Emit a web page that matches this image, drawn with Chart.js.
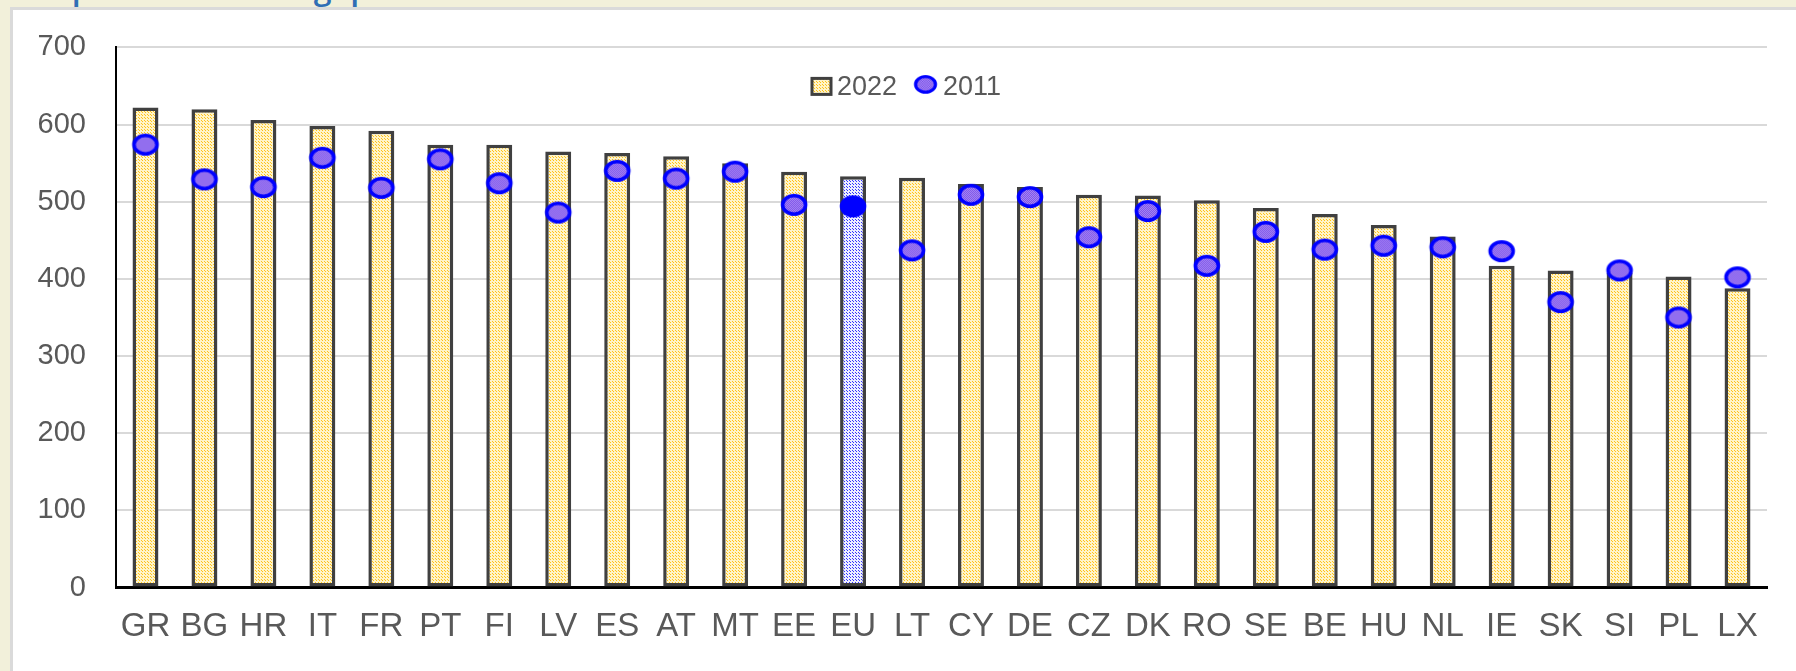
<!DOCTYPE html>
<html>
<head>
<meta charset="utf-8">
<script src="https://cdn.jsdelivr.net/npm/chart.js@4.4.0/dist/chart.umd.min.js"></script>
<style>
  html, body { margin: 0; padding: 0; background: #f2f0da; overflow: hidden; }
  #title { position: absolute; left: 48px; top: -29px; font-family: "Open Sans"; font-weight: 600; font-size: 32px; line-height: 32px; color: #2f6eb5; white-space: nowrap; }
  #panel { position: absolute; left: 10px; top: 7px; width: 1800px; height: 680px; background: #fff; border-left: 3px solid #dadada; border-top: 3px solid #dadada; }
  #c { position: absolute; left: 0; top: 0; }
</style>
</head>
<body>
<div id="title">Up to the overall gap</div>
<div id="panel"></div>
<canvas id="c" width="1796" height="671"></canvas>
<script>
const countries = ['GR','BG','HR','IT','FR','PT','FI','LV','ES','AT','MT','EE','EU','LT','CY','DE','CZ','DK','RO','SE','BE','HU','NL','IE','SK','SI','PL','LX'];
const v2022 = [622,620,606,598,592,574,574,565,563,559,550,539,533,531,523,519,509,508,502,492,484,470,455,417,411,408,403,388];
const v2011 = [574,529,519,557,518,555,524,486,540,530,539,496,494,437,509,506,454,488,417,461,438,443,441,436,370,411,350,402];
const yTicks = [0,100,200,300,400,500,600,700];

const canvas = document.getElementById('c');
const ctx = canvas.getContext('2d');

function dotPattern(bg, dot) {
  const t = document.createElement('canvas');
  t.width = 3; t.height = 3;
  const x = t.getContext('2d');
  x.fillStyle = bg; x.fillRect(0, 0, 3, 3);
  x.fillStyle = dot;
  x.fillRect(0, 0, 1, 1);
  x.fillRect(1, 1, 1, 1);
  return ctx.createPattern(t, 'repeat');
}

function ellipseImg(solid) {
  const c = document.createElement('canvas');
  c.width = 30; c.height = 26;
  const x = c.getContext('2d');
  let fill = '#0000ff';
  if (!solid) {
    const t = document.createElement('canvas');
    t.width = 2; t.height = 2;
    const tx = t.getContext('2d');
    tx.fillStyle = '#ab8ff5'; tx.fillRect(0, 0, 2, 2);
    tx.fillStyle = '#7a4de8'; tx.fillRect(0, 0, 1, 1); tx.fillRect(1, 1, 1, 1);
    fill = x.createPattern(t, 'repeat');
  }
  x.beginPath();
  x.ellipse(15, 13, 11.5, 9.2, 0, 0, Math.PI * 2);
  x.fillStyle = fill;
  x.fill();
  x.lineWidth = 3.6;
  x.strokeStyle = '#0000ff';
  x.stroke();
  return c;
}

const yellow = dotPattern('#fff4c8', '#ffc21a');
const blue = dotPattern('#eceeff', '#3535ff');
const dot = ellipseImg(false);
const euDot = ellipseImg(true);

const insideLegend = {
  id: 'insideLegend',
  afterDraw(chart) {
    const c = chart.ctx;
    const a = chart.chartArea;
    const y = a.top + 39;
    const bx = a.left + 696;
    c.save();
    c.fillStyle = yellow;
    c.fillRect(bx, y - 8, 19, 16);
    c.strokeStyle = '#404040';
    c.lineWidth = 3;
    c.strokeRect(bx, y - 8, 19, 16);
    c.font = '27px Arial';
    c.fillStyle = '#595959';
    c.textBaseline = 'middle';
    c.fillText('2022', bx + 25, y + 1);
    c.drawImage(dot, bx + 115.5 - 15, y - 13, 26, 22);
    c.fillText('2011', bx + 131, y + 1);
    c.restore();
  }
};

new Chart(ctx, {
  type: 'bar',
  data: {
    labels: countries,
    datasets: [
      {
        type: 'line',
        label: '2011',
        data: v2011,
        showLine: false,
        pointStyle: countries.map(c => c === 'EU' ? euDot : dot),
        pointRadius: 12,
        order: 0
      },
      {
        type: 'bar',
        label: '2022',
        data: v2022,
        backgroundColor: countries.map(c => c === 'EU' ? blue : yellow),
        borderColor: '#404040',
        borderWidth: 3.5,
        borderSkipped: false,
        categoryPercentage: 1,
        barPercentage: 0.44,
        order: 1
      }
    ]
  },
  options: {
    responsive: false,
    animation: false,
    layout: { padding: { left: 0, right: 29, top: 43.5, bottom: 0 } },
    plugins: { legend: { display: false }, tooltip: { enabled: false } },
    scales: {
      x: {
        grid: { display: false, drawTicks: false },
        border: { color: '#000', width: 3 },
        ticks: { color: '#595959', font: { family: 'Arial', size: 33 }, padding: 20, maxRotation: 0, autoSkip: false },
        afterFit(s) { s.height = 83.4; }
      },
      y: {
        min: 0,
        max: 700,
        afterBuildTicks(s) { s.ticks = yTicks.map(v => ({ value: v })); },
        ticks: { color: '#595959', font: { family: 'Arial', size: 29 }, padding: 30 },
        grid: { color: c => c.tick && c.tick.value === 0 ? 'rgba(0,0,0,0)' : '#d9d9d9', lineWidth: 2, drawTicks: false },
        border: { color: '#000', width: 2 },
        afterFit(s) { s.width = 116; }
      }
    }
  },
  plugins: [insideLegend]
});
</script>
</body>
</html>
